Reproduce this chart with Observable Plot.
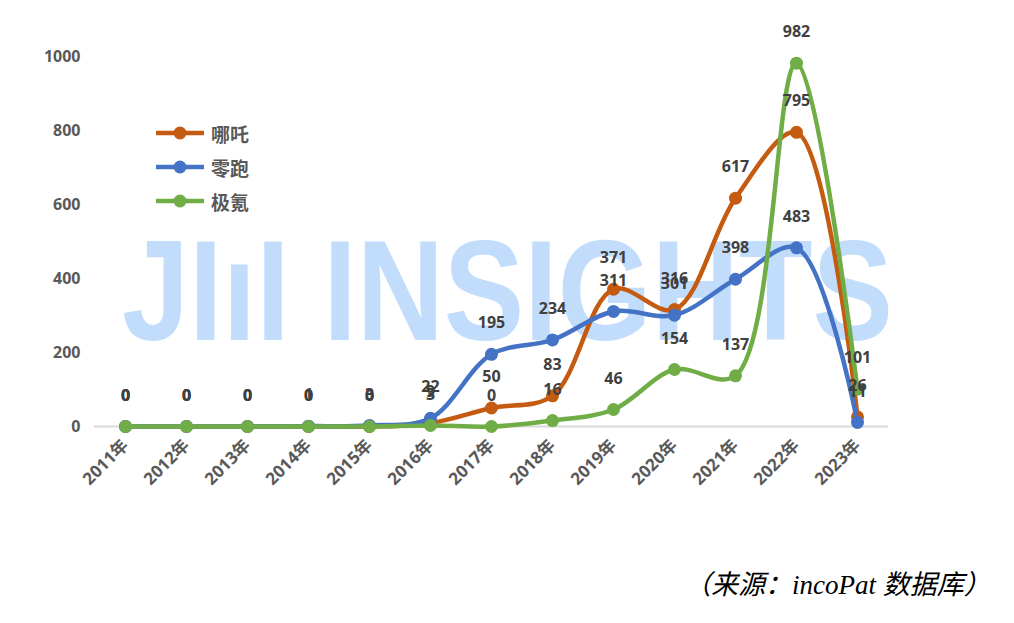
<!DOCTYPE html>
<html><head><meta charset="utf-8">
<script src="https://cdn.jsdelivr.net/npm/d3@7"></script>
<script src="https://cdn.jsdelivr.net/npm/@observablehq/plot@0.6"></script>
<style>
body{margin:0;background:#fff;}
#wrap{position:relative;width:1014px;height:623px;overflow:hidden;}
#legend{position:absolute;left:156px;top:116px;font-family:"Noto Sans CJK SC",sans-serif;font-weight:bold;font-size:19px;color:#595959;}
#legend .row{display:flex;align-items:center;height:34px;}
#legend svg{margin-right:7px;}
#caption{position:absolute;left:684px;top:566px;font-family:"Liberation Serif","Noto Sans CJK SC",serif;font-style:italic;font-size:27px;line-height:38px;color:#000;white-space:nowrap;}
</style></head><body>
<div id="wrap"><div id="chart"></div><div id="legend"></div><div id="caption">（来源：incoPat 数据库）</div></div>
<script>
const years = ["2011年","2012年","2013年","2014年","2015年","2016年","2017年","2018年","2019年","2020年","2021年","2022年","2023年"];
const nezha = [0,0,0,0,0,9,50,83,371,316,617,795,26];
const leapmotor = [0,0,0,1,3,22,195,234,311,301,398,483,11];
const zeekr = [0,0,0,0,0,3,0,16,46,154,137,982,101];
const seriesNames = ["哪吒","零跑","极氪"];
const seriesColors = ["#C55A11","#4472C4","#70AD47"];
const yTicks = [0,200,400,600,800,1000];

const seriesValues = [nezha, leapmotor, zeekr];
const seriesRows = seriesValues.map((vals,i)=>years.map((y,j)=>({year:y,value:vals[j],series:seriesNames[i]})));
const allRows = seriesRows.flat();

const marks = [Plot.ruleY([0],{stroke:"#d9d9d9",strokeWidth:2})];
seriesRows.forEach((rows,i)=>{
  marks.push(Plot.line(rows,{x:"year",y:"value",stroke:seriesColors[i],strokeWidth:4.5,curve:"catmull-rom"}));
  marks.push(Plot.dot(rows,{x:"year",y:"value",r:6.5,fill:seriesColors[i]}));
});
marks.push(Plot.text(allRows,{x:"year",y:"value",text:d=>String(d.value),dy:-31,fill:"#404040",fontWeight:"bold",fontSize:16}));
marks.push(Plot.axisY({ticks:yTicks,tickFormat:d=>String(d),tickSize:0,tickPadding:14,label:null,fontSize:16,fontWeight:"bold"}));
marks.push(Plot.axisX({tickRotate:-45,tickSize:0,tickPadding:16,label:null,fontSize:17,fontWeight:"bold"}));

const plot = Plot.plot({
  width:1014,height:560,
  marginTop:56,marginBottom:134,marginLeft:94,marginRight:126,
  x:{type:"point",domain:years,padding:0.5},
  y:{domain:[0,1000]},
  style:{fontFamily:"'Open Sans','Noto Sans CJK SC',sans-serif",fontSize:"16px",color:"#595959",background:"transparent",overflow:"visible"},
  marks
});
document.getElementById("chart").appendChild(plot);

// watermark behind the data
d3.select(plot).insert("text",":first-child")
  .attr("x",122).attr("y",340).attr("text-anchor","start")
  .attr("textLength",771).attr("lengthAdjust","spacingAndGlyphs")
  .attr("font-family","'Liberation Sans',sans-serif").attr("font-weight","bold")
  .attr("font-size",143).attr("fill","#c2ddfc")
  .text("JIıI INSIGHTS");

// legend
const legend = d3.select("#legend");
seriesNames.forEach((name,i)=>{
  const row = legend.append("div").attr("class","row");
  const s = row.append("svg").attr("width",48).attr("height",14);
  s.append("line").attr("x1",1).attr("x2",47).attr("y1",7).attr("y2",7).attr("stroke",seriesColors[i]).attr("stroke-width",4.5).attr("stroke-linecap","round");
  s.append("circle").attr("cx",24).attr("cy",7).attr("r",6.5).attr("fill",seriesColors[i]);
  row.append("span").text(name);
});
</script>
</body></html>
